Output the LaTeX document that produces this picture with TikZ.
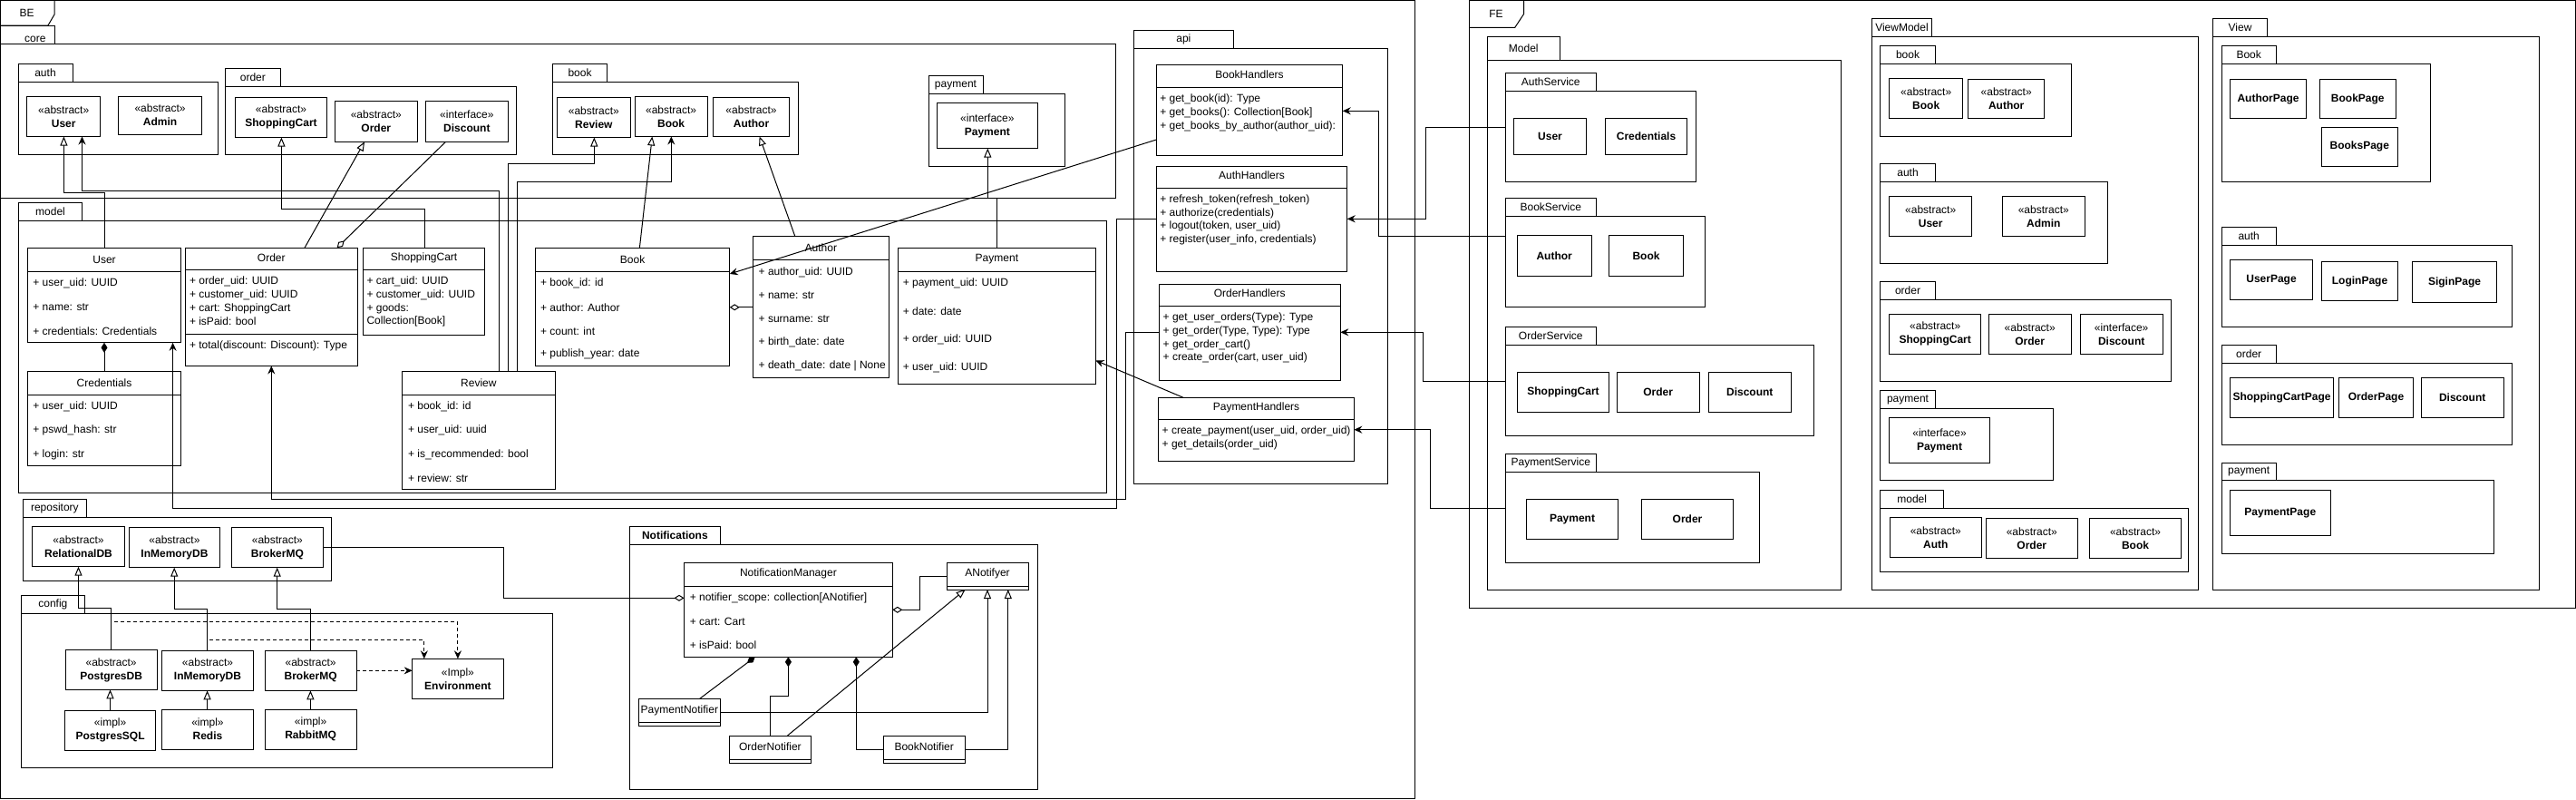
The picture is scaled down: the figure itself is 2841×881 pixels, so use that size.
\documentclass[tikz,border=0pt]{standalone}
\usepackage{fontspec}
\setmainfont{Liberation Sans}
\usetikzlibrary{arrows.meta}
\tikzset{
  x=1pt, y=-1pt,
  every node/.style={font=\fontsize{12}{15}\selectfont, inner sep=0pt, outer sep=0pt},
  box/.style={draw, line width=1pt},
  ln/.style={line width=1pt},
  inh/.style={ln, -{Triangle[length=10pt,width=8pt,fill=white,line width=1pt]}},
  assoc/.style={ln, -{Stealth[length=9pt,width=8pt,inset=3pt]}},
  aggr/.style={ln, {Diamond[length=11pt,width=7pt,fill=white,line width=1pt]}-},
  comp/.style={ln, {Diamond[length=11pt,width=7pt]}-},
  dep/.style={ln, dash pattern=on 4pt off 3pt, -{Stealth[length=9pt,width=8pt,inset=3pt]}},
  attrtxt/.style={anchor=west},
}
\newcounter{attrc}
\newcommand{\pkg}[8]{%
  \node[box, anchor=north west, minimum width=#5-#3, minimum height=#6-#4] (#1tab) at (#3,#4) {};
  \node (#1lbl) at (#1tab.center) {#2};
  \node[box, anchor=north west, minimum width=#7-#3, minimum height=#8-#6] (#1) at (#3,#6) {};
}
\newcommand{\cls}[8]{%
  \node[box, anchor=north west, minimum width=#4-#2, minimum height=#5-#3] (#1) at (#2,#3) {};
  \draw[ln] (#1.west |- 0,#6) -- (#1.east |- 0,#6);
  \node (#1t) at (#1.north |- 0,#8) {#7};
}
\newcommand{\attr}[3]{\stepcounter{attrc}\node[attrtxt] (ta\theattrc) at (#1,#2) {#3};}
\newcommand{\stbox}[7]{%
  \node[box, anchor=north west, minimum width=#4-#2, minimum height=#5-#3, align=center] (#1) at (#2,#3) {#6\\\textbf{#7}};
}
\newcommand{\plainbox}[6]{%
  \node[box, anchor=north west, minimum width=#4-#2, minimum height=#5-#3, font=\fontsize{12}{15}\selectfont\bfseries] (#1) at (#2,#3) {#6};
}
\begin{document}
\begin{tikzpicture}
\useasboundingbox (0,0) rectangle (2841,881);
% ================= BE =================
\node[box, anchor=north west, minimum width=1559.5, minimum height=879.5] (BE) at (0.5,0.5) {};
\draw[ln] (BE.north west |- 0,28) -- (53,28) -- (60,16) -- (60,0.5);
\node (BElbl) at (29.7,14.5) {BE};
% core
\node[box, anchor=north west, minimum width=59.5, minimum height=20] (coretab) at (0.5,28) {};
\node (corelbl) at (38.8,43) {core};
\node[box, anchor=north west, minimum width=1229.5, minimum height=170] (core) at (0.5,48) {};
\pkg{auth}{auth}{20}{70.5}{80}{90.5}{240}{170.5}
\stbox{UserA}{29.7}{106}{110.7}{150.5}{«abstract»}{User}
\stbox{AdminA}{130.5}{106}{222.6}{148.4}{«abstract»}{Admin}
\pkg{orderp}{order}{248.7}{75}{309}{95}{569.4}{170.5}
\stbox{SCA}{259.4}{107.3}{360.6}{151.5}{«abstract»}{ShoppingCart}
\stbox{OrderA}{369.3}{111.5}{460.3}{156.4}{«abstract»}{Order}
\stbox{DiscA}{469.4}{111.5}{560.3}{156.4}{«interface»}{Discount}
\pkg{bookp}{book}{609.5}{70.5}{669.6}{90}{880}{170.5}
\stbox{RevA}{614.5}{107.3}{695.3}{151.5}{«abstract»}{Review}
\stbox{BookA}{700}{106}{780.3}{150.5}{«abstract»}{Book}
\stbox{AuthA}{786.6}{107.3}{870.4}{150.5}{«abstract»}{Author}
\pkg{payp}{payment}{1024}{83.5}{1084}{103.5}{1174.7}{183.4}
\stbox{PayI}{1033.3}{113.3}{1144.4}{163.5}{«interface»}{Payment}
% model
\pkg{modelp}{model}{20.6}{223.4}{90.5}{243}{1220}{543.7}
\cls{UserM}{30.4}{273.2}{199.7}{377.8}{299.2}{User}{286}
\attr{36.4}{312.5}{+ user\_uid: UUID}
\attr{36.4}{338.8}{+ name: str}
\attr{36.4}{364.8}{+ credentials: Credentials}
\cls{OrderM}{204.4}{273.2}{394.2}{403.4}{297.8}{Order}{284.5}
\attr{209}{310.8}{+ order\_uid: UUID}
\attr{209}{325.5}{+ customer\_uid: UUID}
\attr{209}{339.9}{+ cart: ShoppingCart}
\attr{209}{354.6}{+ isPaid: bool}
\draw[ln] (OrderM.west |- 0,368.3) -- (OrderM.east |- 0,368.3);
\attr{209}{381.6}{+ total(discount: Discount): Type}
\cls{SCM}{400.6}{273.2}{534.6}{369.3}{297.8}{ShoppingCart}{284.5}
\attr{404.5}{310.8}{+ cart\_uid: UUID}
\attr{404.5}{325.5}{+ customer\_uid: UUID}
\attr{404.5}{339.9}{+ goods:}
\attr{404.5}{354.6}{Collection[Book]}
\cls{CredM}{30.4}{409.3}{199.7}{513.2}{435.3}{Credentials}{422}
\attr{36.4}{448.6}{+ user\_uid: UUID}
\attr{36.4}{474.6}{+ pswd\_hash: str}
\attr{36.4}{500.9}{+ login: str}
\cls{RevM}{443.3}{409.3}{612.5}{539.1}{435.3}{Review}{422}
\attr{450}{448.6}{+ book\_id: id}
\attr{450}{474.6}{+ user\_uid: uuid}
\attr{450}{500.9}{+ is\_recommended: bool}
\attr{450}{526.8}{+ review: str}
\cls{BookM}{590.5}{273.2}{804.7}{403.4}{299.2}{Book}{286}
\attr{596}{312.5}{+ book\_id: id}
\attr{596}{338.8}{+ author: Author}
\attr{596}{364.8}{+ count: int}
\attr{596}{390.7}{+ publish\_year: date}
\cls{AuthM}{830.4}{260.3}{980.3}{416.3}{286.2}{Author}{273}
\attr{836.7}{299.9}{+ author\_uid: UUID}
\attr{836.7}{325.8}{+ name: str}
\attr{836.7}{351.8}{+ surname: str}
\attr{836.7}{377.8}{+ birth\_date: date}
\attr{836.7}{403.7}{+ death\_date: date | None}
\cls{PayM}{990.4}{273.2}{1208.4}{423.4}{299.2}{Payment}{286}
\attr{995.8}{312.5}{+ payment\_uid: UUID}
\attr{995.8}{343.4}{+ date: date}
\attr{995.8}{374.6}{+ order\_uid: UUID}
\attr{995.8}{405.8}{+ user\_uid: UUID}
% api
\pkg{apip}{api}{1250.7}{33.3}{1360}{53.3}{1530.7}{533.3}
\cls{BookH}{1275.3}{71.9}{1480.7}{171.9}{96.5}{BookHandlers}{82.4}
\attr{1279.3}{109.8}{+ get\_book(id): Type}
\attr{1279.3}{124.5}{+ get\_books(): Collection[Book]}
\attr{1279.3}{138.9}{+ get\_books\_by\_author(author\_uid):}
\cls{AuthH}{1275.3}{183.4}{1485.7}{299.2}{207.3}{AuthHandlers}{193.6}
\attr{1279.3}{220.6}{+ refresh\_token(refresh\_token)}
\attr{1279.3}{235.4}{+ authorize(credentials)}
\attr{1279.3}{249.7}{+ logout(token, user\_uid)}
\attr{1279.3}{264.5}{+ register(user\_info, credentials)}
\cls{OrderH}{1278}{313.2}{1478.3}{419.1}{337.8}{OrderHandlers}{323.4}
\attr{1282.7}{350.8}{+ get\_user\_orders(Type): Type}
\attr{1282.7}{365.5}{+ get\_order(Type, Type): Type}
\attr{1282.7}{379.9}{+ get\_order\_cart()}
\attr{1282.7}{394.6}{+ create\_order(cart, user\_uid)}
\cls{PayH}{1277.7}{438.3}{1493.3}{508.3}{462.3}{PaymentHandlers}{449}
\attr{1281.7}{475.7}{+ create\_payment(user\_uid, order\_uid)}
\attr{1281.7}{490.7}{+ get\_details(order\_uid)}
% repository
\pkg{repop}{repository}{25.3}{550}{95.5}{570.7}{365.3}{640}
\stbox{RelDB}{35.9}{580.3}{137.1}{624.7}{«abstract»}{RelationalDB}
\stbox{MemDBr}{142}{581.3}{242.9}{625.7}{«abstract»}{InMemoryDB}
\stbox{BrokerR}{255.1}{581.3}{356.7}{625.7}{«abstract»}{BrokerMQ}
% config
\pkg{confp}{config}{23.3}{656.7}{93.5}{676}{609.4}{846}
\stbox{PgDB}{72.2}{716.7}{173.1}{760.3}{«abstract»}{PostgresDB}
\stbox{MemDBc}{178.4}{717.3}{279.6}{761.3}{«abstract»}{InMemoryDB}
\stbox{BrokerC}{292.2}{717.3}{393.1}{761.3}{«abstract»}{BrokerMQ}
\stbox{Env}{454.7}{726.3}{555.1}{770.3}{«Impl»}{Environment}
\stbox{PgSQL}{71.4}{783}{171.8}{827.3}{«impl»}{PostgresSQL}
\stbox{Redis}{178.8}{782.3}{279.2}{826}{«impl»}{Redis}
\stbox{Rabbit}{292.2}{782.3}{393.1}{826}{«impl»}{RabbitMQ}
% Notifications
\pkg{notip}{\textbf{Notifications}}{694.3}{580}{794.4}{600}{1144.2}{870}
\cls{NM}{754.5}{620.3}{984.3}{724.3}{646.3}{NotificationManager}{632.7}
\attr{760.8}{659.3}{+ notifier\_scope: collection[ANotifier]}
\attr{760.8}{685.3}{+ cart: Cart}
\attr{760.8}{711.7}{+ isPaid: bool}
\cls{ANot}{1044}{620.3}{1134}{650}{646.3}{ANotifyer}{632.7}
\cls{PayN}{704.4}{770.3}{794.4}{800}{796}{PaymentNotifier}{783.3}
\cls{OrdN}{804.5}{811}{894.2}{841}{837}{OrderNotifier}{823.3}
\cls{BookN}{974.2}{811}{1064.2}{841}{837}{BookNotifier}{823.3}
% ================= FE =================
\node[box, anchor=north west, minimum width=1219.6, minimum height=669.5] (FE) at (1620.7,0.5) {};
\draw[ln] (FE.north west |- 0,30.4) -- (1670.7,30.4) -- (1680.7,15.2) -- (1680.7,0.5);
\node (FElbl) at (1650,15.2) {FE};
\pkg{fmodel}{Model}{1640.3}{40.3}{1720.3}{66.3}{2030.7}{650.5}
\pkg{authsvc}{AuthService}{1660.3}{80.2}{1760.3}{100.6}{1870.7}{200.3}
\plainbox{fUser}{1669.3}{130.5}{1749.7}{170.4}{User}
\plainbox{fCred}{1770.3}{130.5}{1860.7}{170.4}{Credentials}
\pkg{booksvc}{BookService}{1660.3}{218.6}{1760.3}{238}{1880.7}{338.2}
\plainbox{fAuthor}{1673.3}{259.8}{1755}{304.4}{Author}
\plainbox{fBook}{1774.7}{259.8}{1856.3}{304.4}{Book}
\pkg{ordersvc}{OrderService}{1660.3}{360.4}{1760.3}{380.3}{2000.7}{480.5}
\plainbox{fSC}{1673.3}{410.2}{1774.7}{454.5}{ShoppingCart}
\plainbox{fOrder}{1783.3}{410.2}{1874}{454.5}{Order}
\plainbox{fDisc}{1884.3}{410.2}{1975.3}{454.5}{Discount}
\pkg{paysvc}{PaymentService}{1660.3}{500.4}{1760.3}{520}{1940.7}{620.1}
\plainbox{fPay}{1683.3}{550.7}{1784.7}{594.5}{Payment}
\plainbox{fOrderB}{1810.3}{550.7}{1911.7}{594.5}{Order}
% ViewModel
\pkg{vm}{ViewModel}{2064.3}{20.4}{2130.7}{40.8}{2424.7}{650.5}
\pkg{vmbook}{book}{2073.7}{50.3}{2134.3}{70.3}{2284.7}{150.5}
\stbox{vmBookA}{2083.7}{86.3}{2164.7}{130.5}{«abstract»}{Book}
\stbox{vmAuthA}{2170.7}{87.6}{2254.7}{130.5}{«abstract»}{Author}
\pkg{vmauth}{auth}{2073.7}{180.4}{2134.3}{200.3}{2324.7}{290.5}
\stbox{vmUserA}{2083.7}{216.4}{2174.7}{260.6}{«abstract»}{User}
\stbox{vmAdminA}{2208.3}{216.4}{2299.3}{260.6}{«abstract»}{Admin}
\pkg{vmorder}{order}{2073.7}{310.5}{2134.3}{330.4}{2394.7}{420.2}
\stbox{vmSCA}{2083.7}{346}{2184.7}{390.7}{«abstract»}{ShoppingCart}
\stbox{vmOrderA}{2193.3}{346}{2284}{390.7}{«abstract»}{Order}
\stbox{vmDiscI}{2294.3}{346}{2385}{390.7}{«interface»}{Discount}
\pkg{vmpay}{payment}{2073.7}{430.6}{2134.3}{450.6}{2264.7}{529.9}
\stbox{vmPayI}{2083.7}{460.5}{2194.3}{510.4}{«interface»}{Payment}
\pkg{vmmodel}{model}{2073.7}{540.3}{2143.7}{560.3}{2413.7}{630.5}
\stbox{vmAuthB}{2084.3}{570.3}{2185.3}{614.9}{«abstract»}{Auth}
\stbox{vmOrderB}{2190.3}{571.5}{2291.3}{615.8}{«abstract»}{Order}
\stbox{vmBookB}{2304.3}{571.5}{2405.7}{615.8}{«abstract»}{Book}
% View
\pkg{view}{View}{2440.7}{20.4}{2500.3}{40.8}{2800.7}{650.5}
\pkg{vbook}{Book}{2450}{50.3}{2510.3}{70.3}{2680.7}{200.3}
\plainbox{AuthorPage}{2459.3}{87.6}{2543.7}{130.5}{AuthorPage}
\plainbox{BookPage}{2558.3}{87.6}{2642.3}{130.5}{BookPage}
\plainbox{BooksPage}{2560.3}{140}{2644.3}{183.4}{BooksPage}
\pkg{vauth}{auth}{2450}{250.2}{2510.3}{270.2}{2770.7}{360.4}
\plainbox{UserPage}{2459.3}{286.2}{2550.7}{330.4}{UserPage}
\plainbox{LoginPage}{2560.3}{288.4}{2644.7}{331.7}{LoginPage}
\plainbox{SiginPage}{2660.3}{288.4}{2753.7}{333.5}{SiginPage}
\pkg{vorder}{order}{2450}{380.7}{2510.3}{400.3}{2770.7}{490.5}
\plainbox{SCPage}{2459.3}{416.3}{2573.7}{460.5}{ShoppingCartPage}
\plainbox{OrderPage}{2579.7}{416.3}{2661.3}{460.5}{OrderPage}
\plainbox{vDisc}{2670.3}{416.3}{2761}{460.5}{Discount}
\pkg{vpay}{payment}{2450}{510.4}{2510.3}{529.9}{2750.3}{610.6}
\plainbox{PaymentPage}{2459.3}{540.3}{2570.3}{590.2}{PaymentPage}
% ================= connectors =================
% core <-> model
\draw[inh] (UserM.north -| 115,0) |- (70.4,212) -- (UserA.south -| 70.4,0);
\draw[assoc] (RevM.north -| 550.4,0) |- (90.5,210.5) -- (UserA.south -| 90.5,0);
\draw[inh] (RevM.north -| 560,0) |- (655.3,180.3) -- (RevA.south -| 655.3,0);
\draw[assoc] (RevM.north -| 570,0) |- (740.3,200.7) -- (BookA.south -| 740.3,0);
\draw[inh] (SCM.north -| 468.6,0) |- (310.4,230.4) -- (SCA.south -| 310.4,0);
\draw[inh] (OrderM.north -| 336,0) -- (OrderA.south -| 402,0);
\draw[aggr] (OrderM.north -| 371.7,0) -- (DiscA.south -| 491.5,0);
\draw[inh] (BookM.north -| 705.4,0) -- (BookA.south -| 719.3,0);
\draw[inh] (AuthM.north -| 876.7,0) -- (AuthA.south -| 837.6,0);
\draw[inh] (PayM.north -| 1099,0) |- (1089.3,218) -- (PayI.south -| 1089.3,0);
\draw[aggr] (BookM.east |- 0,338.8) -- (AuthM.west |- 0,338.8);
\draw[comp] (UserM.south -| 115,0) -- (CredM.north -| 115,0);
% api -> model
\draw[assoc] (BookH.west |- 0,154) -- (BookM.east |- 0,302);
\draw[assoc] (AuthH.west |- 0,241.3) -| (1231,560.7) -| (UserM.south -| 190.6,0);
\draw[assoc] (OrderH.west |- 0,366) -| (1241,550.7) -| (OrderM.south -| 299.3,0);
\draw[assoc] (PayH.north -| 1305,0) -- (PayM.east |- 0,397.4);
% FE -> api
\draw[assoc] (booksvc.west |- 0,260.3) -| (1520.3,122.3) -- (BookH.east |- 0,122.3);
\draw[assoc] (authsvc.west |- 0,140.3) -| (1572.7,241.3) -- (AuthH.east |- 0,241.3);
\draw[assoc] (ordersvc.west |- 0,420.3) -| (1569.3,366.3) -- (OrderH.east |- 0,366.3);
\draw[assoc] (paysvc.west |- 0,560.3) -| (1577.3,473.7) -- (PayH.east |- 0,473.7);
% repository / config
\draw[inh] (PgDB.north -| 122.4,0) |- (86.5,670.3) -- (RelDB.south -| 86.5,0);
\draw[inh] (MemDBc.north -| 228.6,0) |- (192.2,671.3) -- (MemDBr.south -| 192.2,0);
\draw[inh] (BrokerC.north -| 342.4,0) |- (305.7,671.3) -- (BrokerR.south -| 305.7,0);
\draw[inh] (PgSQL.north -| 121.5,0) -- (PgDB.south -| 121.5,0);
\draw[inh] (Redis.north -| 228.6,0) -- (MemDBc.south -| 228.6,0);
\draw[inh] (Rabbit.north -| 342.4,0) -- (BrokerC.south -| 342.4,0);
\draw[dep] (PgDB.north -| 122.4,0) |- (504.9,685.7) -- (Env.north -| 504.9,0);
\draw[dep] (MemDBc.north -| 228.6,0) |- (467.8,705.7) -- (Env.north -| 467.8,0);
\draw[dep] (BrokerC.east |- 0,739.3) -- (Env.west |- 0,739.3);
\draw[aggr] (NM.west |- 0,659.3) -| (555.5,603) -- (BrokerR.east |- 0,603);
% notifications
\draw[aggr] (NM.east |- 0,672.3) -| (1014.6,635.3) -- (ANot.west |- 0,635.3);
\draw[comp] (NM.south -| 832.7,0) -- (PayN.north -| 771.7,0);
\draw[comp] (NM.south -| 869.4,0) |- (849.6,767.7) -- (OrdN.north -| 849.6,0);
\draw[comp] (NM.south -| 944.3,0) |- (BookN.west |- 0,826);
\draw[inh] (PayN.east |- 0,785.3) -| (ANot.south -| 1089,0);
\draw[inh] (OrdN.north -| 868.5,0) -- (ANot.south -| 1064.6,0);
\draw[inh] (BookN.east |- 0,826) -| (ANot.south -| 1111.8,0);
\end{tikzpicture}
\end{document}
